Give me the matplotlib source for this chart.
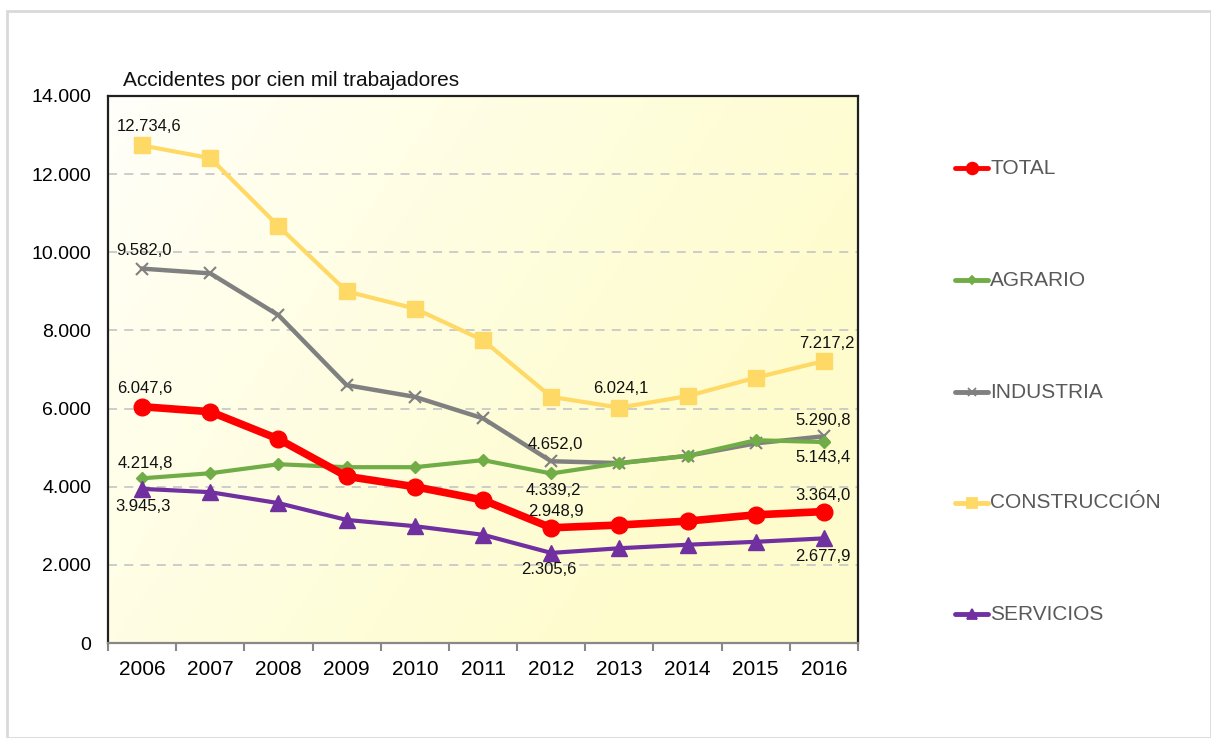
import matplotlib
matplotlib.use("Agg")
import matplotlib.pyplot as plt
import numpy as np
from matplotlib.patches import Rectangle
from matplotlib.colors import LinearSegmentedColormap
from matplotlib.lines import Line2D

plt.rcParams['font.family'] = ['Liberation Sans', 'DejaVu Sans']

years = ['2006', '2007', '2008', '2009', '2010', '2011', '2012', '2013', '2014', '2015', '2016']
total = [6047.6, 5920, 5220, 4265, 4000, 3660, 2948.9, 3020, 3120, 3280, 3364.0]
agrario = [4214.8, 4345, 4575, 4500, 4500, 4680, 4339.2, 4600, 4790, 5190, 5143.4]
industria = [9582.0, 9460, 8390, 6600, 6300, 5750, 4652.0, 4605, 4790, 5110, 5290.8]
construccion = [12734.6, 12410, 10670, 9000, 8560, 7750, 6300, 6024.1, 6320, 6790, 7217.2]
servicios = [3945.3, 3860, 3580, 3150, 2990, 2770, 2305.6, 2425, 2515, 2590, 2677.9]

series_names = ['TOTAL', 'AGRARIO', 'INDUSTRIA', 'CONSTRUCCIÓN', 'SERVICIOS']
yticks = [0, 2000, 4000, 6000, 8000, 10000, 12000, 14000]
ytick_labels = ['0', '2.000', '4.000', '6.000', '8.000', '10.000', '12.000', '14.000']

fig = plt.figure(figsize=(12.11, 7.38), dpi=100)
W, H = 1211, 738
ax = fig.add_axes([108 / W, 1 - 643 / H, 750 / W, 547 / H])

# outer light frame
fig.patches.append(Rectangle((7 / W, 0), 1 - 7 / W, 1 - 11 / H, transform=fig.transFigure,
                             fill=False, edgecolor='#D9D9D9', linewidth=2))

# gradient background: near white at top-left, light yellow towards the right
n = 200
gx, gy = np.meshgrid(np.linspace(0, 1, n), np.linspace(0, 1, n))  # row 0 = top
t = np.clip((gx * 1.0 + gy * 0.5) / 1.2, 0, 1) ** 0.8
cmap = LinearSegmentedColormap.from_list('bg', ['#FFFFFB', '#FFFEE4', '#FEFCCC'])
ax.imshow(t, cmap=cmap, extent=[-0.5, 10.5, 0, 14000], aspect='auto', zorder=0,
          origin='upper', vmin=0, vmax=1)

x = np.arange(len(years))
for yv in yticks[1:-1]:
    ax.axhline(yv, color='#C8C8C8', linestyle=(0, (5, 4)), linewidth=1.3, zorder=1)

ax.plot(x, construccion, color='#FFD966', linewidth=3, marker='s', markersize=11,
        label='CONSTRUCCIÓN', zorder=3)
ax.plot(x, industria, color='#808080', linewidth=3.2, marker='x', markersize=9,
        markeredgewidth=1.5, label='INDUSTRIA', zorder=3)
ax.plot(x, agrario, color='#70AD47', linewidth=3, marker='D', markersize=6,
        label='AGRARIO', zorder=3)
ax.plot(x, servicios, color='#7030A0', linewidth=3, marker='^', markersize=11,
        label='SERVICIOS', zorder=3)
ax.plot(x, total, color='#FF0000', linewidth=5.5, marker='o', markersize=12,
        label='TOTAL', zorder=4)

ax.set_xlim(-0.5, 10.5)
ax.set_ylim(0, 14000)
ax.set_xticks(x)
ax.set_xticklabels(years, fontsize=15)
ax.set_xticks(np.arange(-0.5, 11, 1), minor=True)
ax.tick_params(axis='x', which='major', length=0, pad=12)
ax.tick_params(axis='x', which='minor', length=6, color='#888888', width=1.5)
ax.set_yticks(yticks)
ax.set_yticklabels(ytick_labels, fontsize=14)
ax.tick_params(axis='y', length=0, pad=12)
for s in ['left', 'top', 'right']:
    ax.spines[s].set_color('#202020')
    ax.spines[s].set_linewidth(1.6)
ax.spines['bottom'].set_color('#888888')
ax.spines['bottom'].set_linewidth(1.6)

fig.text(123 / W, 1 - 80 / H, 'Accidentes por cien mil trabajadores', fontsize=15,
         ha='left', va='center', color='#111111')

def lab(series, i, dx, dy):
    v = series[i]
    s = f"{v:,.1f}".replace(',', 'X').replace('.', ',').replace('X', '.')
    ax.annotate(s, (x[i], v), xytext=(dx, dy), textcoords='offset pixels',
                ha='center', va='center', fontsize=12, color='#111111', zorder=5)

lab(construccion, 0, 7, 19)
lab(industria, 0, 2, 18)
lab(total, 0, 3, 18)
lab(agrario, 0, 3, 15)
lab(servicios, 0, 1, -18)
lab(industria, 6, 4, 17)
lab(agrario, 6, 2, -17)
lab(total, 6, 5, 16)
lab(servicios, 6, -2, -17)
lab(construccion, 7, 1, 19)
lab(construccion, 10, 3, 18)
lab(industria, 10, -1, 16)
lab(agrario, 10, -1, -15)
lab(total, 10, -1, 16)
lab(servicios, 10, -1, -18)

handles = {h.get_label(): h for h in ax.get_lines() if not h.get_label().startswith('_')}
leg_y = [168, 280, 392, 503, 614]
for name, yy in zip(series_names, leg_y):
    h = handles[name]
    ms = h.get_markersize() * 0.7
    ln = Line2D([955 / W, 988 / W], [1 - yy / H, 1 - yy / H], transform=fig.transFigure,
                color=h.get_color(), linewidth=3.5, solid_capstyle='round')
    fig.lines.append(ln)
    mk = Line2D([971.5 / W], [1 - yy / H], transform=fig.transFigure, color=h.get_color(),
                marker=h.get_marker(), markersize=ms, markeredgewidth=1.3, linestyle='none')
    fig.lines.append(mk)
    fig.text(990 / W, 1 - yy / H, name, fontsize=15, color='#595959', ha='left', va='center')

fig.savefig('out.png', dpi=100)
